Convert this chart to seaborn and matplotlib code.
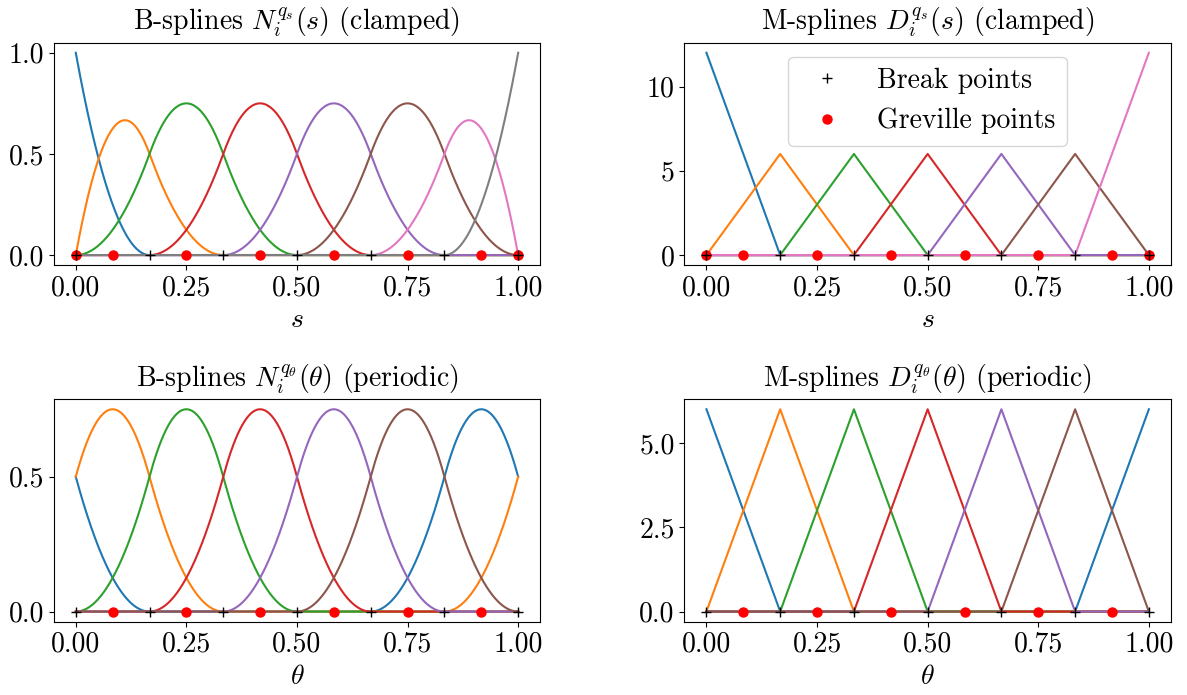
import numpy as np
import pandas as pd
import matplotlib
matplotlib.use("Agg")
import matplotlib.pyplot as plt
import seaborn as sns

# ---------------- data ----------------
degree = 2
breaks = [0, 1/6, 1/3, 1/2, 2/3, 5/6, 1]
knots_clamped_B = [0, 0, 0, 1/6, 1/3, 1/2, 2/3, 5/6, 1, 1, 1]
knots_clamped_M = [0, 0, 1/6, 1/3, 1/2, 2/3, 5/6, 1, 1]
knots_periodic_B = [-1/3, -1/6, 0, 1/6, 1/3, 1/2, 2/3, 5/6, 1, 7/6, 4/3]
knots_periodic_M = [-1/6, 0, 1/6, 1/3, 1/2, 2/3, 5/6, 1, 7/6]
n_periodic = 6
greville_clamped = [0, 1/12, 1/4, 5/12, 7/12, 3/4, 11/12, 1]
greville_periodic = [1/12, 1/4, 5/12, 7/12, 3/4, 11/12]

titles = [r"B-splines $N_i^{q_s}(s)$ (clamped)",
          r"M-splines $D_i^{q_s}(s)$ (clamped)",
          r"B-splines $N_i^{q_\theta}(\theta)$ (periodic)",
          r"M-splines $D_i^{q_\theta}(\theta)$ (periodic)"]
xlabels = [r"$s$", r"$s$", r"$\theta$", r"$\theta$"]
xticks = [0.0, 0.25, 0.5, 0.75, 1.0]
xticklabels = ["0.00", "0.25", "0.50", "0.75", "1.00"]
yticks = [[0.0, 0.5, 1.0], [0, 5, 10], [0.0, 0.5], [0.0, 2.5, 5.0]]
yticklabels = [["0.0", "0.5", "1.0"], ["0", "5", "10"], ["0.0", "0.5"], ["0.0", "2.5", "5.0"]]


def basis(knots, p, x):
    t = np.asarray(knots, float)
    m = len(t) - 1
    B = np.zeros((m, len(x)))
    nonempty = [i for i in range(m) if t[i] < t[i + 1]]
    for i in nonempty:
        B[i] = ((x >= t[i]) & (x < t[i + 1])).astype(float)
    B[nonempty[-1], x == t[-1]] = 1.0
    for d in range(1, p + 1):
        Bn = np.zeros((m - d, len(x)))
        for i in range(m - d):
            d1 = t[i + d] - t[i]
            d2 = t[i + d + 1] - t[i + 1]
            a = (x - t[i]) / d1 * B[i] if d1 > 0 else 0.0
            b = (t[i + d + 1] - x) / d2 * B[i + 1] if d2 > 0 else 0.0
            Bn[i] = a + b
        B = Bn
    return B


def mspline(knots, p, x):
    t = np.asarray(knots, float)
    H = basis(t, p - 1, x)
    scale = np.array([p / (t[j + p] - t[j]) for j in range(H.shape[0])])
    return H * scale[:, None]


def fold(B, n):
    k = B.shape[0] - n
    out = B[:n].copy()
    for i in range(k):
        out[i] += B[i + n]
    return out


x = np.linspace(0, 1, 601)
curves = [
    basis(knots_clamped_B, degree, x),
    mspline(knots_clamped_M, degree, x),
    fold(basis(knots_periodic_B, degree, x), n_periodic),
    fold(mspline(knots_periodic_M, degree, x), n_periodic),
]
grevilles = [greville_clamped, greville_clamped, greville_periodic, greville_periodic]

# ---------------- style ----------------
FS = 20
plt.rcParams.update({
    "font.family": "serif",
    "font.serif": ["cmr10"],
    "mathtext.fontset": "cm",
    "axes.formatter.use_mathtext": True,
    "font.size": FS,
    "axes.titlesize": FS,
    "axes.labelsize": FS,
    "xtick.labelsize": FS,
    "ytick.labelsize": FS,
    "legend.fontsize": FS,
    "axes.unicode_minus": False,
})

fig, axes = plt.subplots(2, 2, figsize=(11.87, 6.95), dpi=100)
fig.subplots_adjust(left=0.0452, right=0.9865, top=0.9386, bottom=0.1055,
                    wspace=0.296, hspace=0.602)

palette = sns.color_palette("tab10", 10)

for k, ax in enumerate(axes.flat):
    Y = curves[k]
    df = pd.DataFrame({
        "x": np.tile(x, Y.shape[0]),
        "y": Y.ravel(),
        "fn": np.repeat(np.arange(Y.shape[0]), len(x)),
    })
    sns.lineplot(data=df, x="x", y="y", hue="fn", palette=palette[:Y.shape[0]],
                 estimator=None, sort=False, legend=False, linewidth=1.5, ax=ax)
    ax.plot(breaks, np.zeros(len(breaks)), "k+", markersize=6.5, zorder=4,
            label="Break points")
    ax.plot(grevilles[k], np.zeros(len(grevilles[k])), "o", color="red",
            markersize=6.5, zorder=3, label="Greville points")
    ax.set_title(titles[k], pad=9)
    ax.set_xlabel(xlabels[k])
    ax.set_ylabel("")
    ax.set_xticks(xticks)
    ax.set_xticklabels(xticklabels)
    ax.set_yticks(yticks[k])
    ax.set_yticklabels(yticklabels[k])
    ax.margins(x=0.05, y=0.05)

axes[0, 1].legend(loc="upper center")

fig.savefig("out.png", dpi=100)
